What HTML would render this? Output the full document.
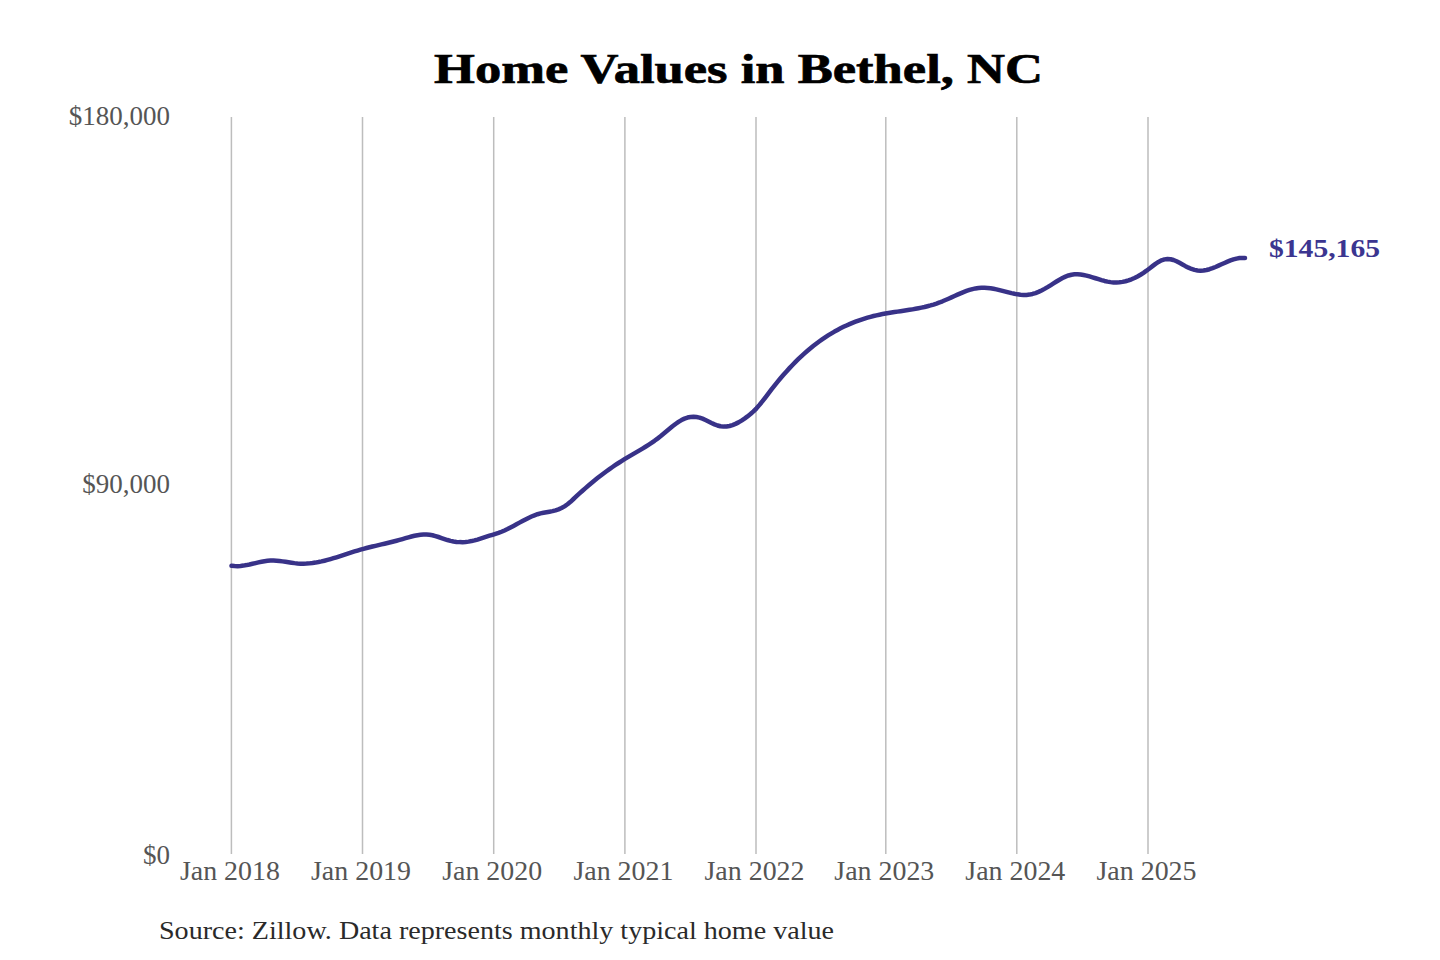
<!DOCTYPE html>
<html><head><meta charset="utf-8"><style>
html,body{margin:0;padding:0;background:#fff;width:1440px;height:960px;overflow:hidden}
svg{display:block}
text{font-family:"Liberation Serif",serif}
</style></head><body>
<svg width="1440" height="960" viewBox="0 0 1440 960">
<rect width="1440" height="960" fill="#fff"/>
<text x="434" y="82.7" font-weight="bold" font-size="43" fill="#000" stroke="#000" stroke-width="0.7" textLength="609" lengthAdjust="spacingAndGlyphs">Home Values in Bethel, NC</text>
<g stroke="#bdbdbd" stroke-width="1.5">
<line x1="231.40" y1="117" x2="231.40" y2="854" />
<line x1="362.50" y1="117" x2="362.50" y2="854" />
<line x1="493.70" y1="117" x2="493.70" y2="854" />
<line x1="624.90" y1="117" x2="624.90" y2="854" />
<line x1="756.00" y1="117" x2="756.00" y2="854" />
<line x1="885.80" y1="117" x2="885.80" y2="854" />
<line x1="1016.80" y1="117" x2="1016.80" y2="854" />
<line x1="1148.00" y1="117" x2="1148.00" y2="854" />
</g>
<g font-size="27" fill="#555" text-anchor="end">
<text x="170" y="124.6">$180,000</text>
<text x="170" y="492.9">$90,000</text>
<text x="170" y="863.8">$0</text>
</g>
<g font-size="27" fill="#555">
<text x="229.90" y="879.6" text-anchor="middle" textLength="100" lengthAdjust="spacingAndGlyphs">Jan 2018</text>
<text x="361.00" y="879.6" text-anchor="middle" textLength="100" lengthAdjust="spacingAndGlyphs">Jan 2019</text>
<text x="492.20" y="879.6" text-anchor="middle" textLength="100" lengthAdjust="spacingAndGlyphs">Jan 2020</text>
<text x="623.40" y="879.6" text-anchor="middle" textLength="100" lengthAdjust="spacingAndGlyphs">Jan 2021</text>
<text x="754.50" y="879.6" text-anchor="middle" textLength="100" lengthAdjust="spacingAndGlyphs">Jan 2022</text>
<text x="884.30" y="879.6" text-anchor="middle" textLength="100" lengthAdjust="spacingAndGlyphs">Jan 2023</text>
<text x="1015.30" y="879.6" text-anchor="middle" textLength="100" lengthAdjust="spacingAndGlyphs">Jan 2024</text>
<text x="1146.50" y="879.6" text-anchor="middle" textLength="100" lengthAdjust="spacingAndGlyphs">Jan 2025</text>
</g>
<path d="M231.5,565.74 L234.5,566.07 L237.5,566.13 L240.5,565.96 L243.5,565.60 L246.5,565.09 L249.5,564.48 L252.5,563.80 L255.5,563.09 L258.5,562.40 L261.5,561.76 L264.5,561.22 L267.5,560.82 L270.5,560.60 L273.5,560.57 L276.5,560.72 L279.5,560.99 L282.5,561.37 L285.5,561.81 L288.5,562.27 L291.5,562.72 L294.5,563.12 L297.5,563.43 L300.5,563.63 L303.5,563.68 L306.5,563.59 L309.5,563.38 L312.5,563.04 L315.5,562.60 L318.5,562.06 L321.5,561.42 L324.5,560.71 L327.5,559.93 L330.5,559.09 L333.5,558.20 L336.5,557.28 L339.5,556.32 L342.5,555.35 L345.5,554.36 L348.5,553.38 L351.5,552.40 L354.5,551.45 L357.5,550.53 L360.5,549.65 L363.5,548.82 L366.5,548.03 L369.5,547.27 L372.5,546.53 L375.5,545.82 L378.5,545.12 L381.5,544.42 L384.5,543.72 L387.5,543.01 L390.5,542.29 L393.5,541.54 L396.5,540.75 L399.5,539.93 L402.5,539.07 L405.5,538.19 L408.5,537.33 L411.5,536.52 L414.5,535.80 L417.5,535.20 L420.5,534.76 L423.5,534.51 L426.5,534.50 L429.5,534.74 L432.5,535.28 L435.5,536.06 L438.5,537.00 L441.5,538.03 L444.5,539.07 L447.5,540.04 L450.5,540.87 L453.5,541.49 L456.5,541.91 L459.5,542.12 L462.5,542.14 L465.5,541.97 L468.5,541.61 L471.5,541.08 L474.5,540.38 L477.5,539.55 L480.5,538.64 L483.5,537.67 L486.5,536.68 L489.5,535.72 L492.5,534.79 L495.5,533.87 L498.5,532.88 L501.5,531.75 L504.5,530.45 L507.5,529.03 L510.5,527.50 L513.5,525.91 L516.5,524.27 L519.5,522.62 L522.5,520.99 L525.5,519.42 L528.5,517.92 L531.5,516.54 L534.5,515.30 L537.5,514.24 L540.5,513.38 L543.5,512.72 L546.5,512.18 L549.5,511.67 L552.5,511.10 L555.5,510.36 L558.5,509.38 L561.5,508.05 L564.5,506.34 L567.5,504.25 L570.5,501.79 L573.5,499.03 L576.5,496.19 L579.5,493.42 L582.5,490.71 L585.5,488.07 L588.5,485.48 L591.5,482.96 L594.5,480.50 L597.5,478.10 L600.5,475.77 L603.5,473.49 L606.5,471.27 L609.5,469.12 L612.5,467.02 L615.5,464.98 L618.5,463.00 L621.5,461.08 L624.5,459.21 L627.5,457.40 L630.5,455.63 L633.5,453.88 L636.5,452.14 L639.5,450.38 L642.5,448.60 L645.5,446.77 L648.5,444.87 L651.5,442.89 L654.5,440.81 L657.5,438.61 L660.5,436.28 L663.5,433.82 L666.5,431.28 L669.5,428.75 L672.5,426.30 L675.5,423.98 L678.5,421.89 L681.5,420.07 L684.5,418.61 L687.5,417.56 L690.5,416.95 L693.5,416.76 L696.5,416.99 L699.5,417.63 L702.5,418.66 L705.5,419.97 L708.5,421.45 L711.5,422.95 L714.5,424.35 L717.5,425.51 L720.5,426.29 L723.5,426.62 L726.5,426.50 L729.5,425.98 L732.5,425.10 L735.5,423.88 L738.5,422.37 L741.5,420.59 L744.5,418.60 L747.5,416.41 L750.5,414.02 L753.5,411.35 L756.5,408.31 L759.5,404.88 L762.5,401.16 L765.5,397.26 L768.5,393.30 L771.5,389.38 L774.5,385.57 L777.5,381.87 L780.5,378.27 L783.5,374.79 L786.5,371.41 L789.5,368.14 L792.5,364.97 L795.5,361.91 L798.5,358.96 L801.5,356.11 L804.5,353.37 L807.5,350.74 L810.5,348.21 L813.5,345.78 L816.5,343.46 L819.5,341.24 L822.5,339.12 L825.5,337.10 L828.5,335.16 L831.5,333.33 L834.5,331.58 L837.5,329.92 L840.5,328.34 L843.5,326.85 L846.5,325.44 L849.5,324.11 L852.5,322.85 L855.5,321.68 L858.5,320.57 L861.5,319.53 L864.5,318.57 L867.5,317.66 L870.5,316.83 L873.5,316.05 L876.5,315.34 L879.5,314.68 L882.5,314.07 L885.5,313.52 L888.5,313.01 L891.5,312.52 L894.5,312.06 L897.5,311.62 L900.5,311.18 L903.5,310.75 L906.5,310.30 L909.5,309.84 L912.5,309.35 L915.5,308.83 L918.5,308.27 L921.5,307.66 L924.5,306.99 L927.5,306.25 L930.5,305.44 L933.5,304.55 L936.5,303.57 L939.5,302.49 L942.5,301.30 L945.5,300.03 L948.5,298.70 L951.5,297.34 L954.5,295.97 L957.5,294.62 L960.5,293.32 L963.5,292.09 L966.5,290.96 L969.5,289.95 L972.5,289.10 L975.5,288.42 L978.5,287.96 L981.5,287.72 L984.5,287.71 L987.5,287.90 L990.5,288.26 L993.5,288.77 L996.5,289.38 L999.5,290.08 L1002.5,290.83 L1005.5,291.61 L1008.5,292.38 L1011.5,293.12 L1014.5,293.79 L1017.5,294.34 L1020.5,294.74 L1023.5,294.94 L1026.5,294.91 L1029.5,294.60 L1032.5,293.97 L1035.5,293.05 L1038.5,291.86 L1041.5,290.46 L1044.5,288.88 L1047.5,287.14 L1050.5,285.31 L1053.5,283.41 L1056.5,281.51 L1059.5,279.70 L1062.5,278.04 L1065.5,276.61 L1068.5,275.47 L1071.5,274.70 L1074.5,274.30 L1077.5,274.24 L1080.5,274.47 L1083.5,274.94 L1086.5,275.60 L1089.5,276.40 L1092.5,277.30 L1095.5,278.26 L1098.5,279.21 L1101.5,280.13 L1104.5,280.95 L1107.5,281.63 L1110.5,282.13 L1113.5,282.41 L1116.5,282.46 L1119.5,282.28 L1122.5,281.88 L1125.5,281.25 L1128.5,280.39 L1131.5,279.30 L1134.5,277.99 L1137.5,276.46 L1140.5,274.73 L1143.5,272.81 L1146.5,270.71 L1149.5,268.45 L1152.5,266.11 L1155.5,263.87 L1158.5,261.90 L1161.5,260.37 L1164.5,259.39 L1167.5,259.00 L1170.5,259.21 L1173.5,260.01 L1176.5,261.26 L1179.5,262.80 L1182.5,264.46 L1185.5,266.13 L1188.5,267.66 L1191.5,268.95 L1194.5,269.91 L1197.5,270.51 L1200.5,270.73 L1203.5,270.55 L1206.5,270.02 L1209.5,269.21 L1212.5,268.18 L1215.5,266.97 L1218.5,265.66 L1221.5,264.29 L1224.5,262.93 L1227.5,261.63 L1230.5,260.44 L1233.5,259.42 L1236.5,258.62 L1239.5,258.09 L1242.5,257.89 L1245.0,258.02" fill="none" stroke="#383288" stroke-width="4.5" stroke-linecap="round" stroke-linejoin="round"/>
<text x="1269" y="257.2" font-weight="bold" font-size="26" fill="#3b3590" textLength="111" lengthAdjust="spacingAndGlyphs">$145,165</text>
<text x="159" y="938.6" font-size="25" fill="#2a2a2a" textLength="675" lengthAdjust="spacingAndGlyphs">Source: Zillow. Data represents monthly typical home value</text>
</svg>
</body></html>
